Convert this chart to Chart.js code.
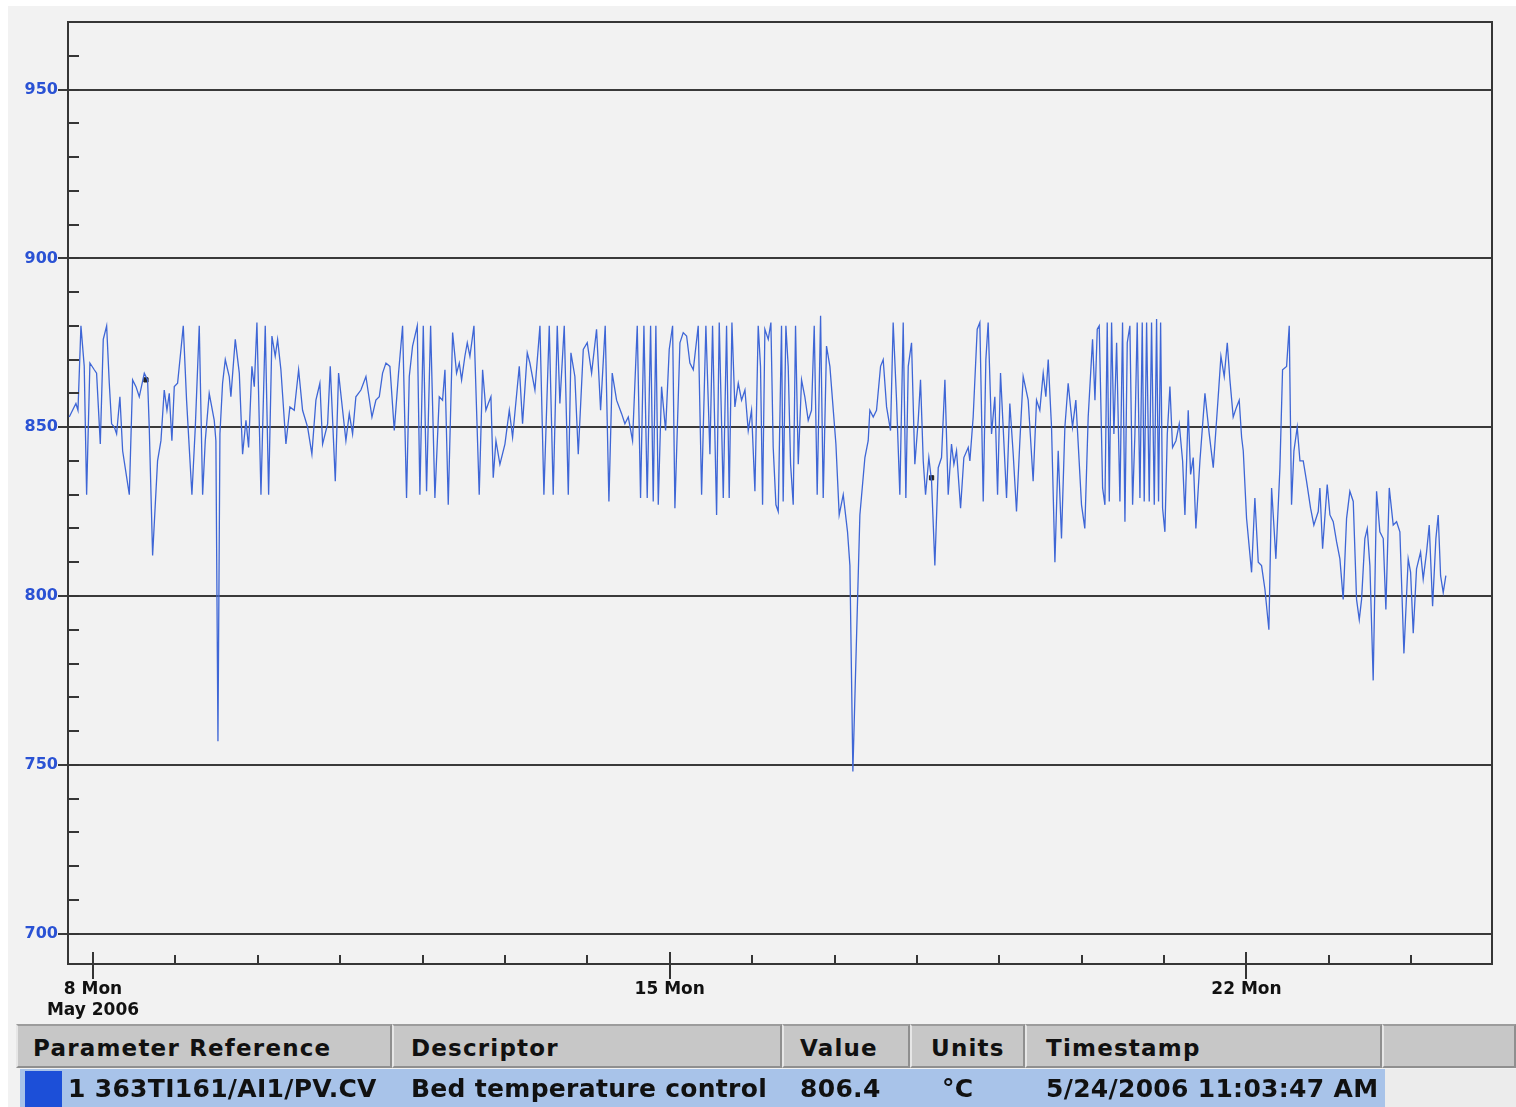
<!DOCTYPE html>
<html>
<head>
<meta charset="utf-8">
<script src="https://cdn.jsdelivr.net/npm/chart.js@4.4.1/dist/chart.umd.min.js"></script>
<style>
html,body{margin:0;padding:0;background:#fff;}
#wrap{position:relative;width:1516px;height:1107px;overflow:hidden;background:#fff;}
#paper{position:absolute;left:8px;top:6px;right:0;bottom:0;background:#f2f2f2;}
#c{position:absolute;left:0;top:0;}
.cell{position:absolute;box-sizing:border-box;font-family:"DejaVu Sans",sans-serif;font-weight:bold;color:#111;white-space:nowrap;}
.hd{top:1024px;height:44px;line-height:44px;background:#c7c7c7;border-top:2px solid #9c9c9c;border-left:2px solid #e6e6e6;border-right:2px solid #8f8f8f;border-bottom:2px solid #8f8f8f;font-size:23px;letter-spacing:1.2px;}
.rw{top:1069px;height:38px;line-height:40px;font-size:25px;letter-spacing:0.3px;}
</style>
</head>
<body>
<div id="wrap">
<div id="paper"></div>
<canvas id="c" width="1516" height="1107"></canvas>
<div class="cell hd" style="left:16px;width:376px;padding-left:15px;">Parameter Reference</div>
<div class="cell hd" style="left:392px;width:390px;padding-left:17px;">Descriptor</div>
<div class="cell hd" style="left:782px;width:128px;padding-left:16px;">Value</div>
<div class="cell hd" style="left:910px;width:115px;padding-left:19px;">Units</div>
<div class="cell hd" style="left:1025px;width:357px;padding-left:19px;">Timestamp</div>
<div class="cell hd" style="left:1382px;width:134px;"></div>
<div class="cell" style="left:20px;top:1069px;width:1365px;height:38px;background:#a8c3e9;"></div>
<div class="cell" style="left:1385px;top:1069px;width:131px;height:38px;background:#ececec;"></div>
<div class="cell" style="left:25px;top:1071px;width:37px;height:36px;background:#1c4fd8;"></div>
<div class="cell rw" style="left:68px;">1 363TI161/AI1/PV.CV</div>
<div class="cell rw" style="left:411px;">Bed temperature control</div>
<div class="cell rw" style="left:800px;">806.4</div>
<div class="cell rw" style="left:942px;">°C</div>
<div class="cell rw" style="left:1046px;">5/24/2006 11:03:47 AM</div>
</div>
<script>
// ---- Data (time in day-of-May, temperature in °C) ----
const timesWeek1a = [7.712,7.793,7.818,7.854,7.894,7.923,7.963,8.016,8.044,8.089,
 8.125,8.166,8.198,8.226,8.259,8.287,8.327,8.360,8.441,8.481,
 8.522,8.562,8.623,8.663,8.683,8.724,8.784,8.825,8.865,8.898,
 8.926,8.958,8.987,9.027,9.068,9.096,9.136,9.201,9.242,9.290,
 9.331,9.363,9.411,9.472,9.492,9.517,9.541,9.573,9.606,9.654,
 9.674,9.727,9.776,9.816,9.857,9.889,9.929,9.958,9.990,10.039,
 10.091,10.132,10.172,10.212,10.241,10.281,10.342,10.390,10.443,10.496,
 10.544,10.605,10.657,10.706,10.754,10.787,10.848,10.880,10.941,10.981,
 11.030,11.070,11.111,11.151,11.191,11.252,11.313,11.386,11.434,11.475,
 11.515,11.556,11.604,11.657,11.709,11.758,11.806,11.839,11.879];
const tempsWeek1a = [853,857,855,880,868,830,869,867,866,845,
 876,880,863,851,850,848,859,843,830,864,
 862,859,866,864,850,812,840,846,861,855,
 860,846,862,863,873,880,858,830,850,880,
 830,846,860,852,846,757,848,863,870,865,
 859,876,866,842,852,844,868,862,881,830,
 880,830,877,871,876,867,845,856,855,867,
 855,850,842,858,863,845,851,868,834,866,
 855,846,854,848,859,861,865,853,858,859,
 866,869,868,849,866,880,829,865,874];

const timesWeek1b = [11.936,11.968,12.009,12.049,12.098,12.150,12.203,12.243,12.272,12.312,
 12.365,12.413,12.446,12.474,12.514,12.543,12.575,12.624,12.688,12.729,
 12.769,12.798,12.830,12.858,12.891,12.939,13.000,13.053,13.093,13.174,
 13.214,13.271,13.303,13.364,13.425,13.473,13.538,13.586,13.635,13.667,
 13.720,13.769,13.801,13.849,13.890,13.951,13.999,14.052,14.112,14.161,
 14.217,14.262,14.302,14.355,14.416,14.456,14.497,14.549,14.606,14.646,
 14.687,14.727,14.768,14.800,14.832,14.861,14.901,14.950,14.994,15.035,
 15.063,15.124,15.164,15.205,15.245,15.286,15.346,15.387,15.439,15.488,
 15.520,15.569,15.601,15.650,15.690,15.722,15.755,15.791,15.832,15.872,
 15.913,15.953,15.993,16.034,16.074];
const tempsWeek1b = [880,830,880,831,880,829,859,858,867,827,
 878,866,869,864,871,875,871,880,830,867,
 855,857,859,835,846,839,845,855,847,868,
 851,872,869,861,880,830,880,830,880,857,
 880,830,872,865,842,873,875,866,879,855,
 880,828,866,858,854,851,853,846,880,829,
 880,829,880,828,880,827,862,849,873,880,
 826,875,878,877,869,867,880,830,880,842,
 880,824,881,829,880,829,881,856,863,858,
 861,849,855,831,880];

const timesWeek2 = [16.102,16.127,16.155,16.196,16.228,16.256,16.289,16.317,16.357,16.377,
 16.410,16.438,16.467,16.499,16.527,16.560,16.600,16.640,16.681,16.721,
 16.754,16.790,16.831,16.863,16.903,16.944,17.017,17.057,17.106,17.158,
 17.187,17.223,17.308,17.369,17.409,17.429,17.470,17.510,17.559,17.591,
 17.632,17.680,17.712,17.753,17.793,17.834,17.866,17.895,17.935,17.975,
 18.016,18.044,18.077,18.105,18.145,18.178,18.218,18.259,18.299,18.340,
 18.380,18.420,18.449,18.481,18.530,18.570,18.623,18.643,18.683,18.732,
 18.764,18.805,18.837,18.865,18.906,18.946,18.979,19.015,19.047,19.088,
 19.128,19.169,19.209,19.250,19.290,19.351,19.411,19.452,19.492,19.533,
 19.565,19.594,19.634,19.675,19.715,19.755,19.796,19.836,19.889,19.929,
 19.998,20.038,20.079,20.132];
const tempsWeek2 = [868,827,879,876,881,844,827,825,880,828,
 880,868,839,827,880,839,864,859,852,855,
 880,830,883,829,874,868,845,824,830,819,
 809,748,824,841,846,855,853,855,868,870,
 856,849,881,858,830,881,829,868,875,839,
 852,864,840,830,841,834,809,838,841,864,
 830,845,839,843,826,841,844,840,853,879,
 881,828,870,881,848,859,830,866,850,829,
 857,842,825,846,865,858,834,858,855,866,
 859,870,850,810,843,817,850,863,850,858,
 827,820,853,876];

const timesWeek3 = [20.161,20.189,20.213,20.254,20.282,20.310,20.335,20.363,20.391,20.424,
 20.464,20.496,20.525,20.553,20.585,20.618,20.646,20.674,20.707,20.735,
 20.759,20.788,20.820,20.848,20.881,20.909,20.933,20.958,20.982,21.010,
 21.039,21.071,21.103,21.144,21.184,21.225,21.253,21.293,21.322,21.354,
 21.386,21.435,21.496,21.548,21.597,21.657,21.690,21.730,21.767,21.799,
 21.839,21.880,21.912,21.941,21.961,22.001,22.062,22.102,22.143,22.183,
 22.224,22.272,22.305,22.325,22.357,22.406,22.438,22.487,22.519,22.547,
 22.576,22.616,22.649,22.689,22.729,22.778,22.818,22.871,22.891,22.924,
 22.980,23.013,23.053,23.094,23.134,23.174,23.215,23.255,23.296,23.336,
 23.369,23.397,23.437,23.466,23.498,23.538,23.579,23.619,23.660,23.692,
 23.733,23.781,23.822,23.862,23.911,23.963,23.992,24.024,24.064,24.113,
 24.145,24.186,24.218,24.259,24.299,24.327,24.356,24.388,24.420];
const tempsWeek3 = [858,879,880,832,827,881,828,881,848,875,
 828,881,822,875,880,827,848,881,829,881,
 828,881,828,881,827,882,828,881,826,819,
 848,862,844,846,851,840,824,855,836,841,
 820,840,860,848,838,859,871,865,875,864,
 853,856,858,847,843,823,807,829,810,809,
 802,790,832,824,811,838,867,868,880,827,
 843,850,840,840,834,826,821,825,832,814,
 833,824,822,816,811,799,823,831,828,799,
 793,799,817,820,809,775,831,819,817,796,
 832,821,822,819,783,811,807,789,808,813,
 805,813,821,797,817,824,806,801,806];

// small trace markers seen on the line
const markerTimes = [8.643, 18.178];
const markerTemps = [864, 835];

// axis ticks
const xMin = 7.697, xMax = 24.98;
const yMin = 691, yMax = 970;
const majorDays = [8, 15, 22];
const majorDayLabels = [['8 Mon', 'May 2006'], '15 Mon', '22 Mon'];
const yLabelValues = [700, 750, 800, 850, 900, 950];

// ---- build ----
const allTimes = timesWeek1a.concat(timesWeek1b, timesWeek2, timesWeek3);
const allTemps = tempsWeek1a.concat(tempsWeek1b, tempsWeek2, tempsWeek3);
const points = allTimes.map((t, i) => ({x: t, y: allTemps[i]}));
const markers = markerTimes.map((t, i) => ({x: t, y: markerTemps[i]}));

const framePlugin = {
  id: 'frame',
  afterDatasetsDraw(chart) {
    const {ctx, chartArea: a, scales: {x, y}} = chart;
    ctx.save();
    ctx.strokeStyle = '#363636';
    ctx.lineWidth = 2;
    ctx.beginPath();
    ctx.moveTo(a.left, a.top);
    ctx.lineTo(a.right, a.top);
    ctx.lineTo(a.right, a.bottom);
    ctx.stroke();
    y.ticks.forEach(t => {
      if (Math.round(t.value) % 10 === 0) {
        const py = Math.round(y.getPixelForValue(t.value));
        ctx.beginPath();
        ctx.moveTo(a.left, py);
        ctx.lineTo(a.left + 11, py);
        ctx.stroke();
      }
    });
    x.ticks.forEach(t => {
      const px = Math.round(x.getPixelForValue(t.value));
      const len = majorDays.includes(t.value) ? 12 : 9;
      ctx.beginPath();
      ctx.moveTo(px, a.bottom);
      ctx.lineTo(px, a.bottom - len);
      ctx.stroke();
    });
    ctx.restore();
  }
};

new Chart(document.getElementById('c').getContext('2d'), {
  type: 'line',
  data: {
    datasets: [
      {data: points, borderColor: '#3e66d6', borderWidth: 1.3, pointRadius: 0, tension: 0, fill: false},
      {data: markers, showLine: false, pointRadius: 3, pointStyle: 'rect', backgroundColor: '#222', borderColor: '#222'}
    ]
  },
  options: {
    responsive: false,
    animation: false,
    layout: {padding: {left: 0, top: 22, right: 24, bottom: 0}},
    plugins: {legend: {display: false}, tooltip: {enabled: false}},
    scales: {
      x: {
        type: 'linear', min: xMin, max: xMax,
        afterFit: s => { s.height = 143; },
        grid: {
          display: true, drawOnChartArea: false, drawTicks: true, tickLength: 15, lineWidth: 2,
          color: c => (c.tick && majorDays.includes(c.tick.value)) ? '#333' : 'rgba(0,0,0,0)'
        },
        border: {display: true, color: '#363636', width: 2},
        ticks: {
          stepSize: 1, includeBounds: false, autoSkip: false, maxRotation: 0, minRotation: 0, padding: 0,
          color: '#111',
          font: {family: 'DejaVu Sans', weight: 'bold', size: 17, lineHeight: 1.22},
          callback: v => { const i = majorDays.indexOf(v); return i >= 0 ? majorDayLabels[i] : ''; }
        }
      },
      y: {
        min: yMin, max: yMax,
        afterFit: s => { s.width = 68; },
        grid: {
          display: true, drawOnChartArea: true, drawTicks: true, tickLength: 10, lineWidth: 2,
          color: c => (c.tick && yLabelValues.includes(c.tick.value)) ? '#3a3a3a' : 'rgba(0,0,0,0)'
        },
        border: {display: true, color: '#363636', width: 2},
        ticks: {
          stepSize: 10, includeBounds: false, autoSkip: false, padding: 0,
          color: '#2a52d4',
          font: {family: 'DejaVu Sans', weight: 'bold', size: 16},
          callback: v => yLabelValues.includes(v) ? String(v) : ''
        }
      }
    }
  },
  plugins: [framePlugin]
});
</script>
</body>
</html>
